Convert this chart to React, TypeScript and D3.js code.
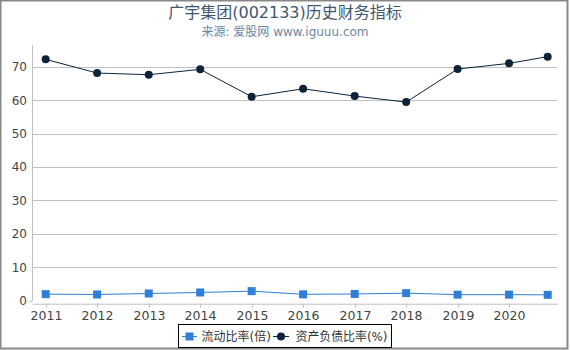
import React from "react";
import * as d3 from "d3";

const dates = ["2010-12-31","2011-12-31","2012-12-31","2013-12-31","2014-12-31","2015-12-31","2016-12-31","2017-12-31","2018-12-31","2019-12-31","2020-09-30"];
const currentRatio = [1.9, 1.8, 2.1, 2.4, 2.8, 1.85, 1.95, 2.2, 1.75, 1.75, 1.7];
const debtRatio = [72.2, 68.1, 67.6, 69.2, 61.0, 63.4, 61.2, 59.4, 69.3, 71.0, 73.0];
const yTicks = [0, 10, 20, 30, 40, 50, 60, 70];
const xTickYears = [2011, 2012, 2013, 2014, 2015, 2016, 2017, 2018, 2019, 2020];
const seriesNames = ["流动比率(倍)", "资产负债比率(%)"];
const title = "广宇集团(002133)历史财务指标";
const subtitle = "来源: 爱股网 www.iguuu.com";

const FONT = "'DejaVu Sans', 'Noto Sans CJK SC', sans-serif";
const C1 = "#2f7ed8";
const C2 = "#0d233a";

export default function App() {
  const parse = (s: string) => new Date(s + "T00:00:00");
  const dts = dates.map(parse);
  const x = d3.scaleTime().domain([dts[0], dts[dts.length - 1]]).range([45.7, 547.7]);
  const y = d3.scaleLinear().domain([0, 70]).range([300.5, 66.7]);
  const left = 32.5, right = 557.5, top = 45, axisY = 303.7;

  const line1 = d3.line<number>().x((_, i) => x(dts[i])).y((d) => y(d))(currentRatio) || "";
  const line2 = d3.line<number>().x((_, i) => x(dts[i])).y((d) => y(d))(debtRatio) || "";

  return (
    <svg width={570} height={350} style={{ position: "fixed", left: 0, top: 0, background: "#fff" }} fontFamily={FONT}>
      <rect x={0} y={0} width={570} height={350} fill="#fff" />
      <rect x={0.5} y={0.5} width={567} height={348} fill="none" stroke="#888" strokeWidth={2} />
      <text x={285} y={17.5} textAnchor="middle" fontSize={16} fill="#3E576F">{title}</text>
      <text x={285} y={36} textAnchor="middle" fontSize={12} fill="#6D869F">{subtitle}</text>

      {yTicks.filter((t) => t > 0).map((t) => (
        <line key={t} x1={left} x2={right} y1={Math.round(y(t)) + 0.5} y2={Math.round(y(t)) + 0.5} stroke="#C0C0C0" strokeWidth={1} />
      ))}
      <line x1={left} x2={left} y1={top} y2={axisY - 3} stroke="#C0C0C0" strokeWidth={1} />
      <line x1={left - 3} x2={left} y1={Math.round(y(0)) + 0.5} y2={Math.round(y(0)) + 0.5} stroke="#C0C0C0" />
      {yTicks.map((t) => (
        <text key={t} x={27} y={y(t) + 4.5} textAnchor="end" fontSize={12} fill="#444">{t}</text>
      ))}

      <line x1={left} x2={right} y1={axisY + 0.5} y2={axisY + 0.5} stroke="#C0C0C0" strokeWidth={1} />
      {xTickYears.map((yr) => {
        const xx = Math.round(x(new Date(yr, 0, 1))) + 0.5;
        return (
          <g key={yr}>
            <line x1={xx} x2={xx} y1={axisY} y2={axisY + 4} stroke="#C0C0C0" />
            <text x={xx} y={320} textAnchor="middle" fontSize={12.5} fill="#444">{yr}</text>
          </g>
        );
      })}

      <path d={line1} fill="none" stroke={C1} strokeWidth={1} />
      {currentRatio.map((v, i) => (
        <rect key={i} x={x(dts[i]) - 4} y={y(v) - 4} width={8} height={8} fill={C1} />
      ))}
      <path d={line2} fill="none" stroke={C2} strokeWidth={1} />
      {debtRatio.map((v, i) => (
        <circle key={i} cx={x(dts[i])} cy={y(v)} r={4} fill={C2} />
      ))}

      <rect x={178.5} y={324.5} width={213} height={23} fill="#fff" stroke="#000" strokeWidth={1} />
      <line x1={182} x2={197} y1={336.5} y2={336.5} stroke={C1} strokeWidth={1} />
      <rect x={185.5} y={332.5} width={8} height={8} fill={C1} />
      <text x={201.5} y={341} fontSize={12} fill="#333">{seriesNames[0]}</text>
      <line x1={273} x2={289} y1={336.5} y2={336.5} stroke={C2} strokeWidth={1} />
      <circle cx={281} cy={336.5} r={4} fill={C2} />
      <text x={295.5} y={341} fontSize={12} fill="#333" textLength={92} lengthAdjust="spacingAndGlyphs">{seriesNames[1]}</text>
    </svg>
  );
}
